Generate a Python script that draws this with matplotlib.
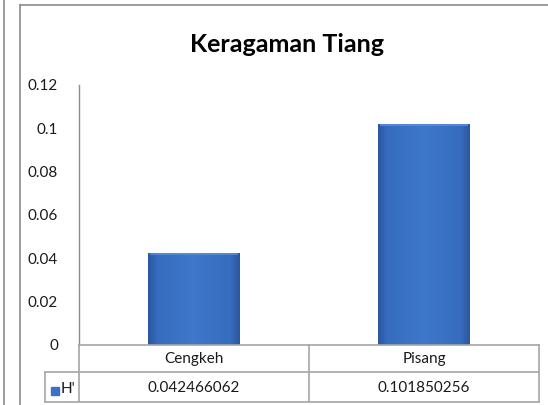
import numpy as np
import matplotlib
matplotlib.use("Agg")
import matplotlib.pyplot as plt
from matplotlib.colors import LinearSegmentedColormap
from matplotlib.lines import Line2D
from matplotlib.patches import Rectangle

title = "Keragaman Tiang"
categories = ["Cengkeh", "Pisang"]
values = [0.042466062, 0.101850256]
series_name = "H'"
yticks = [0, 0.02, 0.04, 0.06, 0.08, 0.1, 0.12]
ytick_labels = ["0", "0.02", "0.04", "0.06", "0.08", "0.1", "0.12"]

plt.rcParams['font.family'] = ['Lato', 'DejaVu Sans']

W, H = 548, 405
fig = plt.figure(figsize=(W / 100, H / 100), dpi=100)
fig.patch.set_facecolor("white")

def fx(px):
    return px / W

def fy(py):
    return 1 - py / H

# outer decorations (frames)
fig.add_artist(Line2D([fx(4), fx(4)], [0, 1], color="#8c8c8c", lw=1.2))
fig.add_artist(Line2D([fx(20), fx(20)], [0, fy(5)], color="#8c8c8c", lw=1.2))
fig.add_artist(Line2D([fx(20), 1], [fy(5), fy(5)], color="#8c8c8c", lw=1.2))

# axes
ax_l, ax_r, ax_t, ax_b = 79, 539, 85, 345
ax = fig.add_axes([fx(ax_l), fy(ax_b), fx(ax_r - ax_l), (ax_b - ax_t) / H])
ax.set_facecolor("none")
x = np.arange(len(categories))
bars = ax.bar(x, values, width=0.4, color="#3b72c6", edgecolor="none", zorder=2)

cmap = LinearSegmentedColormap.from_list(
    "shade", [(0.0, "#2a569e"), (0.1, "#376cbe"), (0.5, "#3e78ca"),
              (0.9, "#376cbe"), (1.0, "#2a569e")])
grad = np.linspace(0, 1, 256).reshape(1, -1)
for b in bars:
    x0, w, h = b.get_x(), b.get_width(), b.get_height()
    im = ax.imshow(grad, extent=[x0, x0 + w, 0, h], aspect="auto",
                   cmap=cmap, zorder=3, interpolation="bicubic")
    im.set_clip_path(b)
    # subtle top highlight
    ax.add_patch(Rectangle((x0 + w * 0.02, h - 0.0009), w * 0.96, 0.0009,
                           color="#5b8fdb", zorder=4, lw=0, alpha=0.8))

ax.set_xlim(-0.5, len(categories) - 0.5)
ax.set_ylim(0, 0.12)
ax.set_yticks(yticks)
ax.set_yticklabels(ytick_labels)
ax.tick_params(axis="y", length=0, pad=15, labelsize=11, colors="#1a1a1a")
ax.set_xticks([])
for s in ["top", "right", "bottom"]:
    ax.spines[s].set_visible(False)
ax.spines["left"].set_color("#8c8c8c")
ax.spines["left"].set_linewidth(1.0)

# title
fig.text(fx(287), fy(44), title, ha="center", va="center",
         fontsize=18, fontweight="bold", color="#000000")

# data table under the axis
gc = "#a6a6a6"
row1_t, row2_t, row2_b = 345, 372, 402
left_key = 45
mid = (ax_l + ax_r) / 2
lines = [
    ([ax_l, ax_r], [row1_t, row1_t]),
    ([left_key, ax_r], [row2_t, row2_t]),
    ([left_key, ax_r], [row2_b, row2_b]),
    ([ax_l, ax_l], [row1_t, row2_b]),
    ([mid, mid], [row1_t, row2_b]),
    ([ax_r, ax_r], [row1_t, row2_b]),
    ([left_key, left_key], [row2_t, row2_b]),
]
for xs, ys in lines:
    fig.add_artist(Line2D([fx(v) for v in xs], [fy(v) for v in ys],
                          color=gc, lw=1.2))

cat_w = (ax_r - ax_l) / len(categories)
for i, (c, v) in enumerate(zip(categories, values)):
    cx = ax_l + cat_w * (i + 0.5)
    fig.text(fx(cx), fy((row1_t + row2_t) / 2 + 1), c, ha="center",
             va="center", fontsize=11, color="#1a1a1a")
    fig.text(fx(cx), fy((row2_t + row2_b) / 2 + 1), f"{v:.9f}", ha="center",
             va="center", fontsize=11, color="#1a1a1a")

# legend key
fig.add_artist(Rectangle((fx(51), fy(395)), fx(8), 8 / H, color="#3b72c6",
                         transform=fig.transFigure))
fig.text(fx(61), fy(389), series_name, ha="left", va="center",
         fontsize=11, color="#1a1a1a")

fig.savefig("out.png", dpi=100)
